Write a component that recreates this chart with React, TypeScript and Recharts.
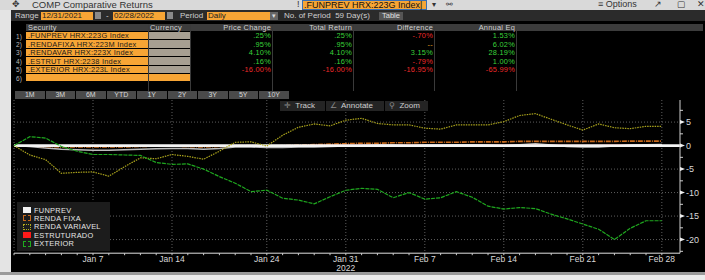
import React from 'react';
import { LineChart, Line, XAxis, YAxis, CartesianGrid, ReferenceLine } from 'recharts';

const dates = [
  'Dec 31',
  'Jan 3', 'Jan 4', 'Jan 5', 'Jan 6', 'Jan 7',
  'Jan 10', 'Jan 11', 'Jan 12', 'Jan 13', 'Jan 14',
  'Jan 17', 'Jan 18', 'Jan 19', 'Jan 20', 'Jan 21',
  'Jan 24', 'Jan 25', 'Jan 26', 'Jan 27', 'Jan 28',
  'Jan 31', 'Feb 1', 'Feb 2', 'Feb 3', 'Feb 4',
  'Feb 7', 'Feb 8', 'Feb 9', 'Feb 10', 'Feb 11',
  'Feb 14', 'Feb 15', 'Feb 16', 'Feb 17', 'Feb 18',
  'Feb 21', 'Feb 22', 'Feb 23', 'Feb 24', 'Feb 25',
  'Feb 28',
];

const funprev = [0, -0.2, -0.5, -0.8, -0.9, -1.0, -1.0, -0.9, -0.8, -0.7, -0.6, -0.6, -0.8, -0.6, -0.3, -0.3, -0.4, -0.4, -0.3, -0.3, -0.2, -0.1, 0, 0.1, 0.1, 0, 0.1, 0.1, 0.2, 0.2, 0.1, 0, 0.2, 0.4, 0.1, -0.2, -0.3, -0.3, -0.1, 0.1, 0.2, 0.25];
const rendaFixa = [0, -0.1, -0.2, -0.3, -0.3, -0.3, -0.3, -0.3, -0.2, -0.1, -0.1, -0.2, -0.3, -0.2, 0, 0, -0.1, 0, 0.1, 0.2, 0.3, 0.4, 0.5, 0.5, 0.6, 0.6, 0.7, 0.7, 0.7, 0.8, 0.8, 0.8, 0.9, 0.9, 0.9, 0.9, 0.9, 0.9, 0.9, 0.95, 0.95, 0.95];
const rendaVariavel = [0, -2.0, -3.0, -5.9, -5.7, -5.6, -6.5, -4.5, -2.6, -2.8, -1.9, -2.3, -2.9, -1.2, 0.7, 0.8, -0.1, 2.2, 3.9, 4.6, 4.2, 5.4, 5.8, 4.7, 4.4, 4.4, 3.7, 3.5, 4.4, 4.4, 4.4, 5.1, 6.4, 6.8, 5.6, 4.4, 3.3, 4.6, 3.8, 3.6, 4.1, 4.1];
const estruturado = [0, -0.1, -0.1, -0.2, -0.2, -0.2, -0.2, -0.2, -0.1, -0.1, -0.1, -0.1, -0.2, -0.1, 0, 0, -0.1, 0, 0, 0.1, 0.1, 0.1, 0.1, 0.1, 0.1, 0.1, 0.1, 0.1, 0.15, 0.15, 0.1, 0.1, 0.15, 0.2, 0.1, 0.05, 0.05, 0.05, 0.1, 0.1, 0.15, 0.16];
const exterior = [0, 1.9, 1.6, -0.2, -1.2, -1.9, -1.9, -2.0, -2.1, -3.6, -4.0, -3.9, -5.0, -6.6, -8.0, -9.8, -9.5, -11.2, -11.6, -12.4, -10.9, -9.5, -9.1, -9.3, -11.1, -10.0, -11.4, -11.1, -9.8, -11.0, -12.9, -13.5, -13.2, -13.4, -14.6, -15.6, -16.7, -17.8, -20.0, -17.6, -16.0, -16.0];

const majorLabels = ['Jan 7', 'Jan 14', 'Jan 24', 'Jan 31', 'Feb 7', 'Feb 14', 'Feb 21', 'Feb 28'];
const yMajor = [5, 0, -5, -10, -15, -20];
const yAll = [7.5, 5, 2.5, 0, -2.5, -5, -7.5, -10, -12.5, -15, -17.5, -20, -22.5];

const securities = ['.FUNPREV HRX:223G Index', '.RENDAFIXA HRX:223M Index', '.RENDAVAR HRX:223X Index', '.ESTRUT HRX:2238 Index', '.EXTERIOR HRX:223L Index'];
const priceChange = ['.25%', '.95%', '4.10%', '.16%', '-16.00%'];
const totalReturn = ['.25%', '.95%', '4.10%', '.16%', '-16.00%'];
const difference = ['-.70%', '--', '3.15%', '-.79%', '-16.95%'];
const annualEq = ['1.53%', '6.02%', '28.19%', '1.00%', '-65.99%'];
const rangeButtons = ['1M', '3M', '6M', 'YTD', '1Y', '2Y', '3Y', '5Y', '10Y'];

const legendItems = [
  { name: 'FUNPREV', color: '#f2f2f2', kind: 'solid' },
  { name: 'RENDA FIXA', color: '#c8691c', kind: 'dashed' },
  { name: 'RENDA VARIAVEL', color: '#b3ac1e', kind: 'dotted' },
  { name: 'ESTRUTURADO', color: '#ff1a1a', kind: 'solid' },
  { name: 'EXTERIOR', color: '#1faa1f', kind: 'dashed' },
];

const data = dates.map((d, i) => ({
  i,
  date: d,
  funprev: funprev[i],
  rendaFixa: rendaFixa[i],
  rendaVariavel: rendaVariavel[i],
  estruturado: estruturado[i],
  exterior: exterior[i],
}));

const majorIdx = majorLabels.map((l) => dates.indexOf(l));
const FONT = '"Liberation Sans", Arial, sans-serif';

const colorFor = (s: string) => (s.startsWith('-') ? (s === '--' ? '#e0a020' : '#ee2a2a') : '#3ad23a');

const XTick = (props: any) => {
  const { x, y, payload } = props;
  const label = dates[payload.value];
  const major = majorLabels.includes(label);
  return (
    <g>
      <line x1={x} x2={x} y1={y} y2={y + 2} stroke="#cfcfcf" strokeWidth={1} />
      {major && (
        <text x={x} y={y + 9} textAnchor="middle" fill="#d8d8d8" fontSize={8.5} fontFamily={FONT}>
          {label}
        </text>
      )}
      {label === 'Jan 31' && (
        <text x={x} y={y + 18} textAnchor="middle" fill="#d8d8d8" fontSize={8.5} fontFamily={FONT}>
          2022
        </text>
      )}
    </g>
  );
};

const YTick = (props: any) => {
  const { x, y, payload } = props;
  const v = payload.value;
  const major = v % 5 === 0;
  if (!major) {
    return <line x1={x} x2={x + 3} y1={y} y2={y} stroke="#cfcfcf" strokeWidth={1} />;
  }
  return (
    <g>
      <polygon points={`${x},${y - 2} ${x + 5},${y} ${x},${y + 2}`} fill="#f0f0f0" />
      <text x={x + 6} y={y + 3} fill="#d8d8d8" fontSize={9} fontFamily={FONT}>
        {v}
      </text>
    </g>
  );
};

const Swatch = ({ color, kind }: { color: string; kind: string }) => {
  if (kind === 'solid') {
    return <div style={{ width: 8, height: 6, background: color }} />;
  }
  return <div style={{ width: 6, height: 4, border: `1px ${kind} ${color}` }} />;
};

const cellText: React.CSSProperties = {
  fontSize: 7.4,
  letterSpacing: 0.25,
  lineHeight: '7px',
  height: 7,
  whiteSpace: 'nowrap',
  overflow: 'visible',
};

export default function App() {
  const rowH = 8.4;
  return (
    <div
      style={{
        position: 'absolute',
        left: 0,
        top: 0,
        width: 705,
        height: 280,
        overflow: 'hidden',
        background: '#000',
        fontFamily: FONT,
      }}
    >
      {/* title bar */}
      <div style={{ position: 'absolute', left: 0, top: 0, width: 705, height: 10, background: '#d9d9d9' }} />
      <div style={{ position: 'absolute', left: 12, top: 0, fontSize: 9, lineHeight: '9px', color: '#333' }}>✥</div>
      <div style={{ position: 'absolute', left: 32, top: 0, fontSize: 9.5, lineHeight: '9px', color: '#333', whiteSpace: 'nowrap' }}>COMP Comparative Returns</div>
      <div style={{ position: 'absolute', left: 297, top: 0, fontSize: 9, lineHeight: '9px', color: '#333' }}>!</div>
      <div
        style={{
          position: 'absolute', left: 302, top: 0, width: 122, height: 8, background: '#f7a535',
          border: '1px solid #3b6fb0', fontSize: 9, lineHeight: '9px', color: '#111', paddingLeft: 1, whiteSpace: 'nowrap',
        }}
      >
        .FUNPREV HRX:223G Index|
      </div>
      <div style={{ position: 'absolute', left: 432, top: 0, fontSize: 8, lineHeight: '9px', color: '#333' }}>▾</div>
      <div style={{ position: 'absolute', left: 446, top: 0, fontSize: 8, lineHeight: '9px', color: '#333' }}>⚯</div>
      <div style={{ position: 'absolute', left: 598, top: 0, fontSize: 9, lineHeight: '9px', color: '#333', whiteSpace: 'nowrap' }}>≡ Options</div>
      <div style={{ position: 'absolute', left: 654, top: 0, fontSize: 9, lineHeight: '9px', color: '#333' }}>↗</div>
      <div style={{ position: 'absolute', left: 677, top: 0, fontSize: 9, lineHeight: '9px', color: '#333' }}>▢</div>
      <div style={{ position: 'absolute', left: 697, top: 0, fontSize: 9, lineHeight: '9px', color: '#333' }}>✕</div>

      {/* left & bottom frame */}
      <div style={{ position: 'absolute', left: 0, top: 10, width: 11, height: 270, background: '#e4e4e4' }} />
      <div style={{ position: 'absolute', left: 0, top: 272, width: 705, height: 3, background: '#9a9a9a' }} />
      <div style={{ position: 'absolute', left: 0, top: 275, width: 705, height: 5, background: '#ececec' }} />

      {/* row 2 */}
      <div style={{ position: 'absolute', left: 11, top: 10, width: 694, height: 11, background: '#2b2b2b' }} />
      <div style={{ position: 'absolute', left: 15, top: 12, fontSize: 8, lineHeight: '8px', color: '#cfcfcf' }}>Range</div>
      <div style={{ position: 'absolute', left: 41, top: 12, width: 51, height: 8, background: '#f7a535', fontSize: 8, lineHeight: '8px', color: '#222', paddingLeft: 1 }}>12/31/2021</div>
      <div style={{ position: 'absolute', left: 95, top: 12, width: 6, height: 7, background: '#8a8a8a' }} />
      <div style={{ position: 'absolute', left: 106, top: 12, fontSize: 8, lineHeight: '8px', color: '#cfcfcf' }}>-</div>
      <div style={{ position: 'absolute', left: 113, top: 12, width: 51, height: 8, background: '#f7a535', fontSize: 8, lineHeight: '8px', color: '#222', paddingLeft: 1 }}>02/28/2022</div>
      <div style={{ position: 'absolute', left: 167, top: 12, width: 6, height: 7, background: '#8a8a8a' }} />
      <div style={{ position: 'absolute', left: 180, top: 12, fontSize: 8, lineHeight: '8px', color: '#cfcfcf' }}>Period</div>
      <div style={{ position: 'absolute', left: 207, top: 12, width: 62, height: 8, background: '#f7a535', fontSize: 8, lineHeight: '8px', color: '#222', paddingLeft: 1 }}>Daily</div>
      <div style={{ position: 'absolute', left: 270, top: 12, width: 8, height: 8, background: '#666', fontSize: 7, lineHeight: '8px', color: '#ddd', textAlign: 'center' }}>▾</div>
      <div style={{ position: 'absolute', left: 284, top: 12, fontSize: 8, lineHeight: '8px', color: '#cfcfcf', whiteSpace: 'nowrap' }}>No. of Period&nbsp; 59 Day(s)</div>
      <div style={{ position: 'absolute', left: 379, top: 12, width: 24, height: 8, background: '#555', fontSize: 7.5, lineHeight: '8px', color: '#e0e0e0', textAlign: 'center' }}>Table</div>

      {/* table header */}
      <div style={{ position: 'absolute', left: 26, top: 24, width: 677, height: 7, background: '#3c3c3c' }} />
      <div style={{ position: 'absolute', left: 28, top: 24, ...cellText, color: '#d0d0d0' }}>Security</div>
      <div style={{ position: 'absolute', left: 150, top: 24, ...cellText, color: '#d0d0d0' }}>Currency</div>
      {[
        ['Price Change', 271],
        ['Total Return', 352],
        ['Difference', 433],
        ['Annual Eq', 515],
      ].map(([t, r]) => (
        <div key={t as string} style={{ position: 'absolute', left: (r as number) - 80, width: 80, top: 24, ...cellText, color: '#d0d0d0', textAlign: 'right' }}>
          {t}
        </div>
      ))}
      {[148, 190, 272, 353, 434, 516].map((x) => (
        <div key={x} style={{ position: 'absolute', left: x, top: 24, width: 1, height: 67, background: '#3a3a3a' }} />
      ))}

      {/* table rows */}
      {[0, 1, 2, 3, 4, 5].map((k) => {
        const top = 32 + k * rowH;
        const hasData = k < securities.length;
        return (
          <React.Fragment key={k}>
            <div style={{ position: 'absolute', left: 16, top: top + 0.5, ...cellText, fontSize: 6.5, letterSpacing: 0, color: '#bbb' }}>{k + 1})</div>
            <div style={{ position: 'absolute', left: 26, top, width: 122, height: 7.4, background: '#f7a535' }} />
            {hasData && (
              <div style={{ position: 'absolute', left: 28, top: top + 0.3, ...cellText, color: '#1a1a1a' }}>{securities[k]}</div>
            )}
            <div style={{ position: 'absolute', left: 149, top, width: 41, height: 7.4, background: hasData ? '#a79f92' : '#f7a535' }} />
            {hasData &&
              [
                [priceChange[k], 271],
                [totalReturn[k], 352],
                [difference[k], 433],
                [annualEq[k], 515],
              ].map(([t, r], j) => (
                <div key={j} style={{ position: 'absolute', left: (r as number) - 78, width: 78, top: top + 0.3, ...cellText, color: colorFor(t as string), textAlign: 'right' }}>
                  {t}
                </div>
              ))}
          </React.Fragment>
        );
      })}

      {/* range buttons */}
      {rangeButtons.map((b, k) => (
        <div key={b} style={{ position: 'absolute', left: 15 + k * 30.5, top: 91, width: 29.5, height: 8, background: '#4a4a4a', fontSize: 7, lineHeight: '8px', color: '#d8d8d8', textAlign: 'center' }}>
          {b}
        </div>
      ))}

      {/* chart */}
      <div style={{ position: 'absolute', left: 0, top: 95 }}>
        <LineChart width={705} height={180} data={data} margin={{ top: 5, right: 0, bottom: 0, left: 14 }}>
          <CartesianGrid
            stroke="#5e5e5e"
            strokeDasharray="1 2"
            horizontalValues={yMajor}
            verticalValues={[0, ...majorIdx]}
          />
          <XAxis
            dataKey="i"
            type="number"
            domain={[0, 42.15]}
            allowDataOverflow
            ticks={dates.map((_, i) => i)}
            interval={0}
            tick={<XTick />}
            tickLine={false}
            tickSize={0}
            tickMargin={0}
            height={21.8}
            stroke="#e0e0e0"
          />
          <YAxis
            orientation="right"
            type="number"
            domain={[-22.9, 9.7]}
            allowDataOverflow
            ticks={yAll}
            interval={0}
            tick={<YTick />}
            tickLine={false}
            tickSize={0}
            tickMargin={0}
            width={25}
            stroke="#cfcfcf"
          />
          <Line dataKey="estruturado" stroke="#ff1a1a" strokeWidth={1} dot={false} isAnimationActive={false} />
          <Line dataKey="funprev" stroke="#bdbdbd" strokeWidth={1.5} dot={false} isAnimationActive={false} />
          <Line dataKey="rendaFixa" stroke="#c8691c" strokeWidth={1.6} strokeDasharray="5 1 1 1" dot={false} isAnimationActive={false} />
          <ReferenceLine y={0} stroke="#f4f4f4" strokeWidth={2.6} />
          <Line dataKey="rendaVariavel" stroke="#aaa31c" strokeWidth={1.2} strokeDasharray="1.5 1" dot={false} isAnimationActive={false} />
          <Line dataKey="exterior" stroke="#1fa81f" strokeWidth={1.2} strokeDasharray="4 1" dot={false} isAnimationActive={false} />
        </LineChart>
      </div>

      {/* track/annotate/zoom */}
      <div style={{ position: 'absolute', left: 280, top: 101, width: 148, height: 10, background: '#242424' }} />
      <div style={{ position: 'absolute', left: 284, top: 102, fontSize: 8, lineHeight: '8px', color: '#cfcfcf', whiteSpace: 'nowrap' }}>
        <span style={{ color: '#888' }}>✛</span>&nbsp; Track
      </div>
      <div style={{ position: 'absolute', left: 325, top: 101, width: 1, height: 10, background: '#000' }} />
      <div style={{ position: 'absolute', left: 330, top: 102, fontSize: 8, lineHeight: '8px', color: '#cfcfcf', whiteSpace: 'nowrap' }}>
        <span style={{ color: '#888' }}>∠</span>&nbsp; Annotate
      </div>
      <div style={{ position: 'absolute', left: 384, top: 101, width: 1, height: 10, background: '#000' }} />
      <div style={{ position: 'absolute', left: 389, top: 102, fontSize: 8, lineHeight: '8px', color: '#cfcfcf', whiteSpace: 'nowrap' }}>
        <span style={{ color: '#888' }}>⚲</span>&nbsp; Zoom
      </div>

      {/* legend */}
      <div style={{ position: 'absolute', left: 17, top: 202, width: 93, height: 49, background: '#1c1c1c' }}>
        {legendItems.map((it, k) => (
          <div key={it.name} style={{ position: 'absolute', left: 5, top: 4.5 + k * 8.4, height: 7, display: 'flex', alignItems: 'center' }}>
            <div style={{ width: 9, display: 'flex', justifyContent: 'center' }}>
              <Swatch color={it.color} kind={it.kind} />
            </div>
            <div style={{ marginLeft: 3, fontSize: 7.4, letterSpacing: 0.3, lineHeight: '7px', height: 7, color: '#e6e6e6', whiteSpace: 'nowrap' }}>{it.name}</div>
          </div>
        ))}
      </div>
    </div>
  );
}
